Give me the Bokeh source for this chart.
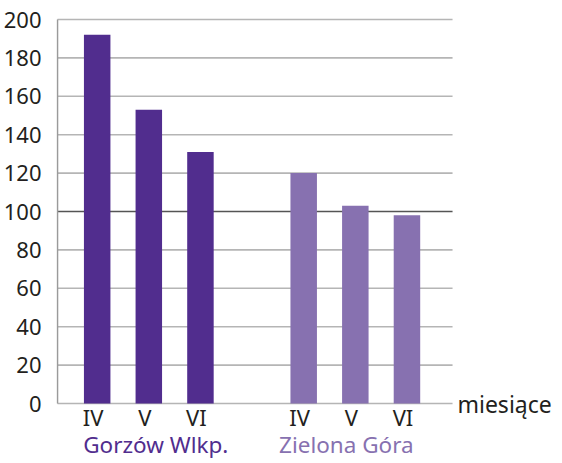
from bokeh.plotting import figure
from bokeh.models import Range1d, FixedTicker
from bokeh.core.properties import value
from bokeh.embed import file_html
from bokeh.resources import INLINE

months = ["IV", "V", "VI"]
cities = ["Gorzów Wlkp.", "Zielona Góra"]
gorzow = [192, 153, 131]
zielona = [120, 103, 98]
y_ticks = [0, 20, 40, 60, 80, 100, 120, 140, 160, 180, 200]
axis_title = "miesiące"

DARK = "#512d8e"
LIGHT = "#8771b0"
TXT = "#231f20"
GRID = "#b5b5b5"
FONT = "Noto Sans"

W, H = 552, 462
LEFT = 46            # canvas px of frame left
ZERO_Y = 403         # canvas px of value 0
PPU_Y = 1.92         # px per value unit
PPU_X = 52.67        # px per slot
X0 = -0.769          # data x at plot-area left edge
X1 = 6.883           # data x at plot-area right edge

g_pos = [float(i) for i in range(len(months))]
z_pos = [float(i + len(months) + 1) for i in range(len(months))]

x_start = X0 - 1 / PPU_X
x_end = x_start + (W - LEFT) / PPU_X
y_end = ZERO_Y / PPU_Y
y_start = -(H - ZERO_Y) / PPU_Y

p = figure(width=W, height=H, output_backend="svg", toolbar_location=None,
           x_range=Range1d(x_start, x_end), y_range=Range1d(y_start, y_end),
           min_border_left=LEFT, min_border_right=0, min_border_top=0,
           min_border_bottom=0)
p.outline_line_color = None
p.grid.visible = False
p.xaxis.visible = False

# gridlines
gy = [t for t in y_ticks]
p.segment(x0=[X0] * len(gy), y0=gy, x1=[X1] * len(gy), y1=gy,
          line_color=[("#555555" if t == 100 else GRID) for t in gy], line_width=1.6)
# y axis line
p.segment(x0=[X0], y0=[y_ticks[0]], x1=[X0], y1=[y_ticks[-1]],
          line_color="#9a9a9a", line_width=1.6)

p.vbar(x=g_pos, top=gorzow, width=0.513, color=DARK, line_color=None)
p.vbar(x=z_pos, top=zielona, width=0.513, color=LIGHT, line_color=None)

# y axis labels (real axis, line hidden)
p.yaxis.ticker = FixedTicker(ticks=y_ticks)
p.yaxis.axis_line_color = None
p.yaxis.major_tick_line_color = None
p.yaxis.minor_tick_line_color = None
p.yaxis.major_label_standoff = 9
p.yaxis.major_label_text_font = FONT
p.yaxis.major_label_text_font_size = "22px"
p.yaxis.major_label_text_color = TXT

# month labels
p.text(x=g_pos + z_pos, y=[-13 / PPU_Y] * 6, text=months + months,
       text_align="center", text_baseline="alphabetic", x_offset=-4,
       text_font=value(FONT), text_font_size="22px", text_color=TXT)

# city labels
p.text(x=[g_pos[1]], y=[-41 / PPU_Y], text=[cities[0]], text_align="center",
       text_baseline="alphabetic", x_offset=7,
       text_font=value(FONT), text_font_size="22.5px", text_color=DARK)
p.text(x=[z_pos[1]], y=[-41 / PPU_Y], text=[cities[1]], text_align="center",
       text_baseline="alphabetic", x_offset=-9,
       text_font=value(FONT), text_font_size="22.5px", text_color=LIGHT)

# axis title
p.text(x=[X1 + 5 / PPU_X], y=[0], text=[axis_title], text_align="left",
       text_baseline="alphabetic",
       text_font=value(FONT), text_font_size="23px", text_color=TXT)

open("out.html", "w").write(file_html(p, INLINE))
